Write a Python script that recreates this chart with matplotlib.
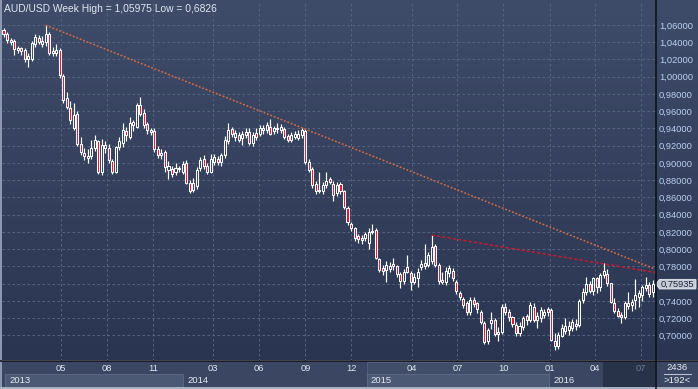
import matplotlib
matplotlib.use('Agg')
import matplotlib.pyplot as plt
import matplotlib.patches as patches
import numpy as np
import pandas as pd

plt.rcParams['font.family'] = ['Liberation Sans', 'DejaVu Sans']

# ---- weekly AUD/USD candles, first week starts 2013-01-07 ----
opens = [
    1.054, 1.050, 1.043, 1.042, 1.031, 1.033, 1.031, 1.020, 1.021, 1.038,
    1.045, 1.038, 1.040, 1.049, 1.027, 1.028, 1.031, 1.001, 0.975, 0.964,
    0.941, 0.957, 0.922, 0.912, 0.906, 0.908, 0.917, 0.925, 0.890, 0.917,
    0.917, 0.902, 0.890, 0.918, 0.923, 0.937,
    0.930, 0.944, 0.942, 0.967, 0.958, 0.945, 0.936, 0.937, 0.916, 0.909,
    0.913, 0.892, 0.893, 0.889, 0.893, 0.890, 0.900, 0.877, 0.869, 0.873,
    0.894, 0.905, 0.897, 0.890, 0.901, 0.905, 0.901, 0.909, 0.926, 0.939,
    0.930, 0.932, 0.929, 0.932, 0.936, 0.923, 0.935, 0.934,
    0.938, 0.938, 0.942, 0.937, 0.939, 0.938, 0.939, 0.931, 0.927, 0.930,
    0.929, 0.932, 0.937, 0.901, 0.893, 0.876, 0.867, 0.867, 0.874, 0.881,
    0.876, 0.865, 0.876, 0.867, 0.848, 0.829, 0.824, 0.815, 0.813, 0.813,
    0.807, 0.821, 0.822, 0.788, 0.778, 0.776,
    0.777, 0.783, 0.780, 0.771, 0.763, 0.779, 0.772, 0.762, 0.766, 0.779,
    0.780, 0.782, 0.786, 0.804, 0.782, 0.762, 0.762, 0.772, 0.775, 0.762,
    0.749, 0.742, 0.737, 0.727, 0.741, 0.737, 0.727, 0.714, 0.693, 0.714,
    0.718, 0.701, 0.704, 0.733, 0.727, 0.721, 0.712, 0.703, 0.710,
    0.7224, 0.718, 0.7325, 0.718, 0.720, 0.724, 0.730, 0.7294, 0.6938, 0.6875,
    0.699, 0.705, 0.7065, 0.709, 0.7105, 0.7125, 0.741, 0.750, 0.760, 0.751,
    0.7665, 0.7555, 0.7696, 0.771, 0.7603, 0.738, 0.7287, 0.7235, 0.721, 0.7335,
    0.7352, 0.741, 0.7449, 0.7468, 0.7545, 0.7584, 0.750,
]
highs = [
    1.056, 1.052, 1.045, 1.044, 1.036, 1.035, 1.033, 1.027, 1.042, 1.049,
    1.048, 1.047, 1.05975, 1.052, 1.034, 1.038, 1.033, 1.003, 0.982, 0.972,
    0.970, 0.960, 0.930, 0.917, 0.916, 0.927, 0.932, 0.927, 0.928, 0.926,
    0.922, 0.905, 0.920, 0.930, 0.946, 0.942,
    0.953, 0.950, 0.970, 0.976, 0.962, 0.947, 0.941, 0.940, 0.920, 0.916,
    0.915, 0.902, 0.897, 0.900, 0.897, 0.902, 0.903, 0.880, 0.882, 0.895,
    0.907, 0.909, 0.900, 0.910, 0.910, 0.908, 0.912, 0.931, 0.946, 0.942,
    0.938, 0.936, 0.937, 0.940, 0.940, 0.936, 0.940, 0.944,
    0.944, 0.947, 0.951, 0.943, 0.946, 0.945, 0.942, 0.933, 0.936, 0.937,
    0.938, 0.940, 0.939, 0.904, 0.895, 0.879, 0.890, 0.878, 0.890, 0.884,
    0.879, 0.878, 0.878, 0.869, 0.850, 0.832, 0.826, 0.818, 0.816, 0.820,
    0.824, 0.829, 0.824, 0.790, 0.782, 0.786,
    0.785, 0.790, 0.782, 0.774, 0.777, 0.793, 0.775, 0.772, 0.778, 0.787,
    0.806, 0.797, 0.8163, 0.806, 0.784, 0.773, 0.779, 0.782, 0.778, 0.764,
    0.752, 0.745, 0.740, 0.744, 0.745, 0.739, 0.729, 0.717, 0.709, 0.727,
    0.720, 0.710, 0.736, 0.738, 0.730, 0.723, 0.715, 0.716, 0.723,
    0.7245, 0.7385, 0.737, 0.727, 0.7324, 0.731, 0.7325, 0.7315, 0.7024, 0.7043,
    0.713, 0.720, 0.7165, 0.7185, 0.7185, 0.7426, 0.7545, 0.7678, 0.7625, 0.768,
    0.768, 0.7722, 0.7835, 0.7765, 0.761, 0.7432, 0.7318, 0.7268, 0.7393, 0.7505,
    0.742, 0.7648, 0.7525, 0.758, 0.7675, 0.762, 0.7638,
]
lows = [
    1.046, 1.039, 1.037, 1.025, 1.027, 1.025, 1.017, 1.011, 1.018, 1.034,
    1.038, 1.035, 1.036, 1.025, 1.024, 1.024, 0.999, 0.970, 0.962, 0.945,
    0.938, 0.920, 0.909, 0.903, 0.900, 0.905, 0.914, 0.887, 0.886, 0.912,
    0.900, 0.887, 0.888, 0.915, 0.918, 0.926,
    0.928, 0.937, 0.940, 0.955, 0.940, 0.933, 0.932, 0.913, 0.906, 0.905,
    0.890, 0.881, 0.884, 0.886, 0.889, 0.887, 0.875, 0.8655, 0.866, 0.870,
    0.891, 0.893, 0.887, 0.888, 0.898, 0.898, 0.897, 0.906, 0.922, 0.930,
    0.926, 0.924, 0.921, 0.929, 0.921, 0.920, 0.927, 0.931,
    0.934, 0.935, 0.932, 0.934, 0.935, 0.935, 0.928, 0.924, 0.924, 0.928,
    0.927, 0.929, 0.899, 0.889, 0.871, 0.864, 0.865, 0.864, 0.871, 0.875,
    0.856, 0.862, 0.864, 0.846, 0.828, 0.821, 0.810, 0.807, 0.806, 0.810,
    0.800, 0.817, 0.788, 0.774, 0.770, 0.762,
    0.773, 0.776, 0.768, 0.755, 0.760, 0.772, 0.753, 0.759, 0.756, 0.776,
    0.777, 0.779, 0.783, 0.779, 0.760, 0.760, 0.758, 0.768, 0.763, 0.748,
    0.741, 0.732, 0.724, 0.724, 0.733, 0.726, 0.713, 0.6896, 0.690, 0.707,
    0.699, 0.693, 0.701, 0.724, 0.717, 0.710, 0.699, 0.699, 0.706,
    0.712, 0.716, 0.715, 0.708, 0.716, 0.7205, 0.722, 0.6935, 0.6826, 0.684,
    0.6975, 0.701, 0.700, 0.7045, 0.706, 0.710, 0.738, 0.747, 0.749, 0.7465,
    0.749, 0.752, 0.766, 0.757, 0.737, 0.7263, 0.7209, 0.7145, 0.719, 0.731,
    0.7285, 0.731, 0.733, 0.740, 0.752, 0.7445, 0.7443,
]
closes = [
    1.049, 1.043, 1.040, 1.032, 1.033, 1.030, 1.020, 1.024, 1.039, 1.046,
    1.040, 1.042, 1.049, 1.027, 1.030, 1.031, 1.002, 0.973, 0.965, 0.950,
    0.956, 0.922, 0.913, 0.908, 0.908, 0.917, 0.927, 0.890, 0.921, 0.921,
    0.903, 0.890, 0.918, 0.925, 0.938, 0.932,
    0.946, 0.948, 0.967, 0.957, 0.944, 0.938, 0.938, 0.916, 0.909, 0.911,
    0.895, 0.896, 0.887, 0.894, 0.894, 0.899, 0.877, 0.867, 0.877, 0.892,
    0.903, 0.896, 0.890, 0.905, 0.907, 0.901, 0.909, 0.927, 0.938, 0.934,
    0.935, 0.927, 0.934, 0.936, 0.923, 0.932, 0.930, 0.940,
    0.941, 0.944, 0.934, 0.940, 0.940, 0.942, 0.930, 0.927, 0.932, 0.934,
    0.934, 0.938, 0.901, 0.892, 0.874, 0.867, 0.869, 0.874, 0.879, 0.878,
    0.863, 0.874, 0.867, 0.849, 0.831, 0.824, 0.813, 0.812, 0.811, 0.817,
    0.820, 0.820, 0.790, 0.776, 0.775, 0.782,
    0.781, 0.780, 0.771, 0.763, 0.774, 0.774, 0.762, 0.768, 0.774, 0.783,
    0.784, 0.793, 0.803, 0.782, 0.763, 0.764, 0.775, 0.778, 0.766, 0.751,
    0.745, 0.735, 0.727, 0.741, 0.736, 0.731, 0.716, 0.692, 0.706, 0.718,
    0.702, 0.704, 0.733, 0.727, 0.721, 0.713, 0.703, 0.711, 0.720,
    0.7178, 0.735, 0.718, 0.723, 0.729, 0.7275, 0.7275, 0.6946, 0.6872, 0.7003,
    0.708, 0.711, 0.7105, 0.7155, 0.7132, 0.740, 0.750, 0.760, 0.751, 0.7665,
    0.7555, 0.7696, 0.7745, 0.7609, 0.7385, 0.7287, 0.7225, 0.721, 0.737, 0.7378,
    0.739, 0.7468, 0.7487, 0.7565, 0.7584, 0.748, 0.75935,
]

# resistance lines: (week index, price) at both ends
line1_weeks = [12, 185.6]
line1_prices = [1.05975, 0.7769]
line2_weeks = [122, 185.6]
line2_prices = [0.8163, 0.7729]

month_dates = ['2013-05-01', '2013-08-01', '2013-11-01', '2014-03-01', '2014-06-01',
               '2014-09-01', '2014-12-01', '2015-04-01', '2015-07-01', '2015-10-01',
               '2016-01-01', '2016-04-01', '2016-07-01']
month_labels = ['05', '08', '11', '03', '06', '09', '12', '04', '07', '10', '01', '04', '07']
years = ['2013', '2014', '2015', '2016']
year_dates = ['2013-01-01', '2014-01-01', '2015-01-01', '2016-01-01']
price_ticks = np.round(np.arange(0.70, 1.0601, 0.02), 2)

first_week = pd.Timestamp('2013-01-07')


def week_of(d):
    return (pd.Timestamp(d) - first_week).days / 7


W, H = 698, 389
AX_L, AX_R, AX_T, AX_B = 2, 655, 2, 360.5
X0, X1 = -0.43, 185.6
Y0, Y1 = 0.6708, 1.0867


def px_x(i):
    return AX_L + (i - X0) / (X1 - X0) * (AX_R - AX_L)


def px_y(p):
    return AX_T + (Y1 - p) / (Y1 - Y0) * (AX_B - AX_T)


fig = plt.figure(figsize=(W / 100, H / 100), dpi=100)

# background layer in pixel coordinates
bg = fig.add_axes([0, 0, 1, 1], zorder=-1)
bg.set_xlim(0, W)
bg.set_ylim(H, 0)
bg.axis('off')
top_c = np.array([0x3f, 0x4c, 0x69]) / 255
bot_c = np.array([0x2a, 0x35, 0x51]) / 255
t = np.linspace(0, 1, 256)[:, None, None]
grad = top_c * (1 - t) + bot_c * t
bg.imshow(grad, extent=[0, W, AX_B, 0], aspect='auto', interpolation='bilinear')

# time axis strip
bg.add_patch(patches.Rectangle((0, AX_B), W, H - AX_B, facecolor='#3b4762', edgecolor='none'))
yr_px = [max(px_x(week_of(d)), 5) for d in year_dates] + [AX_R]
for k, name in enumerate(years):
    x_a, x_b = yr_px[k], yr_px[k + 1]
    if k == 2:
        bg.add_patch(patches.Rectangle((x_a, AX_B + 1), x_b - x_a - 1, 26, facecolor='#414e69',
                                       edgecolor='#56637e', linewidth=0.6))
    if k % 2 == 0:
        bg.add_patch(patches.Rectangle((x_a, 374), x_b - x_a - 1, 13, facecolor='#4c5974',
                                       edgecolor='#5e6b86', linewidth=0.6))
    bg.text(x_a + 4, 380.5, name, fontsize=6.8, color='#e4e9f2', va='center', ha='left')
bg.add_patch(patches.Rectangle((603, AX_B + 1), AX_R - 603, 26, facecolor='#283249', edgecolor='none'))

# price chart
ax = fig.add_axes([AX_L / W, 1 - AX_B / H, (AX_R - AX_L) / W, (AX_B - AX_T) / H])
ax.set_facecolor('none')
ax.set_xlim(X0, X1)
ax.set_ylim(Y0, Y1)
for s in ax.spines.values():
    s.set_visible(False)

# the 0,76 label sits under the last-price marker, so it is left blank
last_close = closes[-1]
ytick_text = ['' if abs(v - last_close) < 0.006 else f'{v:.5f}'.replace('.', ',')
              for v in price_ticks]
ax.set_yticks(price_ticks)
ax.set_yticklabels(ytick_text)
ax.yaxis.tick_right()
ax.set_xticks([week_of(d) for d in month_dates])
ax.set_xticklabels(month_labels)
ax.tick_params(axis='y', length=0, pad=2.8, labelsize=6.7, labelcolor='#b9cff0')
ax.tick_params(axis='x', length=0, pad=2.6, labelsize=6.7, labelcolor='#dfe6f0')
ax.get_xticklabels()[-1].set_color('#6f7c98')
ax.grid(True, color='#56637f', linestyle=(0, (2.5, 2.5)), linewidth=0.72)
ax.set_axisbelow(True)

o = np.array(opens)
h = np.array(highs)
l = np.array(lows)
c = np.array(closes)
idx = np.arange(len(c))
body_lo = np.minimum(o, c)
body_hi = np.maximum(o, c)
body_h = np.maximum(body_hi - body_lo, 0.0012)
face = [(0, 0, 0, 0) if cc >= oo else '#e8112d' for oo, cc in zip(o, c)]

ax.vlines(idx, body_lo + body_h, h, color='white', linewidth=0.85, zorder=3)
ax.vlines(idx, l, body_lo, color='white', linewidth=0.85, zorder=3)
ax.bar(idx, body_h, bottom=body_lo, width=0.58, color=face, edgecolor='white',
       linewidth=0.75, zorder=4)

ax.plot(line1_weeks, line1_prices, color='#dc6a40', linewidth=1.1,
        linestyle=(0, (1.2, 1.2)), zorder=5)
ax.plot(line2_weeks, line2_prices, color='#d0172c', linewidth=1.1,
        linestyle=(0, (2.0, 1.5)), zorder=5)

# overlay: frame lines, title, last price marker, corner box
ov = fig.add_axes([0, 0, 1, 1], zorder=5)
ov.set_facecolor('none')
ov.set_xlim(0, W)
ov.set_ylim(H, 0)
ov.axis('off')

ov.text(4, 8.5, 'AUD/USD Week High = 1,05975 Low = 0,6826', fontsize=7.4,
        color='#dfe6f1', va='center', ha='left')

ov.plot([0, W], [AX_B + 0.3, AX_B + 0.3], color='#0b0e16', linewidth=1.1)
ov.plot([AX_R + 0.5, AX_R + 0.5], [0, H], color='#0b0e16', linewidth=1.1)
ov.add_patch(patches.Rectangle((0, 0), 1.6, H, facecolor='#8c98af', edgecolor='none'))
ov.add_patch(patches.Rectangle((0, H - 2), W, 2, facecolor='#a9b1c0', edgecolor='none'))

yc = px_y(last_close)
ov.add_patch(patches.Polygon([(AX_R + 0.8, yc), (659.5, yc - 4.8), (696, yc - 4.8),
                              (696, yc + 4.8), (659.5, yc + 4.8)], closed=True,
                             facecolor='#c6ccd6', edgecolor='#e9edf2', linewidth=0.6))
ov.text(677.8, yc + 0.3, f'{last_close:.5f}'.replace('.', ','), fontsize=6.7,
        color='#1d2438', ha='center', va='center')

ov.text(677, 367.5, '2436', fontsize=6.8, color='#e8ecf2', ha='center', va='center')
ov.plot([664, 691], [373.8, 373.8], color='#b8c0cf', linewidth=0.8)
ov.text(677, 380.5, '>192<', fontsize=6.8, color='#e8ecf2', ha='center', va='center')

fig.savefig('out.png', dpi=100)
